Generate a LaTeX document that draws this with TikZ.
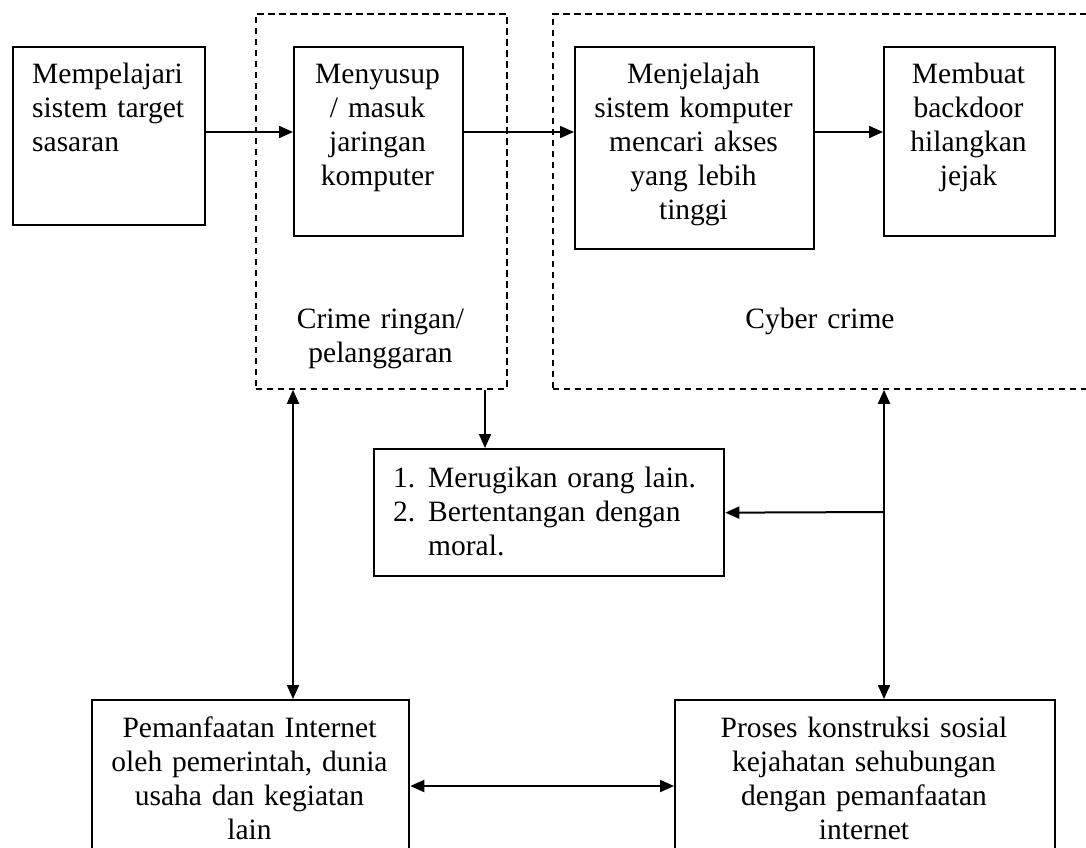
\documentclass[tikz,border=0pt]{standalone}
\usepackage{fontspec}
\setmainfont{Liberation Serif}
\usetikzlibrary{arrows.meta}
\begin{document}
\begin{tikzpicture}[x=1pt,y=-1pt,
  box/.style={draw=black,line width=2.3pt,rectangle,inner sep=0pt,anchor=north west},
  grp/.style={draw=black,line width=1.8pt,dash pattern=on 6.5pt off 4.5pt,rectangle,inner sep=0pt,anchor=north west},
  txt/.style={inner sep=0pt,font=\fontsize{29.5}{34}\selectfont},
  arr/.style={line width=2pt,-{Triangle[length=14pt,width=12pt]}},
  dbl/.style={line width=2pt,{Triangle[length=14pt,width=12pt]}-{Triangle[length=14pt,width=12pt]}}]
\useasboundingbox (0,0) rectangle (1086,847);
\clip (0,0) rectangle (1086,847);
\fill[white] (0,0) rectangle (1086,847);
% groups
\node[grp,minimum width=251pt,minimum height=375pt] (crime1) at (255,13) {};
\node[grp,minimum width=536pt,minimum height=375pt] (cyber) at (552,13) {};
% boxes
\node[box,minimum width=192pt,minimum height=178pt] (b1) at (12,46) {};
\node[box,minimum width=169pt,minimum height=189pt] (b2) at (293,46) {};
\node[box,minimum width=239pt,minimum height=202pt] (b3) at (574,46) {};
\node[box,minimum width=171pt,minimum height=189pt] (b4) at (883,46) {};
\node[box,minimum width=350pt,minimum height=127pt] (b5) at (373,448) {};
\node[box,minimum width=317pt,minimum height=220pt] (b6) at (91,699) {};
\node[box,minimum width=380pt,minimum height=220pt] (b7) at (674,699) {};
% texts
\node[txt,text width=180pt,align=left,anchor=base west] (t1) at (32,83) {Mempelajari\\sistem target\\sasaran};
\node[txt,text width=160pt,align=center,anchor=base] (t2) at (377.5,83) {Menyusup\\/ masuk\\jaringan\\komputer};
\node[txt,text width=235pt,align=center,anchor=base] (t3) at (693.5,83) {Menjelajah\\sistem komputer\\mencari akses\\yang lebih\\tinggi};
\node[txt,text width=168pt,align=center,anchor=base] (t4) at (968.5,83) {Membuat\\backdoor\\hilangkan\\jejak};
\node[txt,text width=240pt,align=center,anchor=base] (tc1) at (380.5,328) {Crime ringan/\\pelanggaran};
\node[txt,text width=240pt,align=center,anchor=base] (tc2) at (820,328) {Cyber crime};
\node[txt,text width=340pt,align=left,anchor=base west] (t5) at (393,487) {\makebox[35pt][l]{1.}Merugikan orang lain.\\\makebox[35pt][l]{2.}Bertentangan dengan\\\hspace*{35pt}moral.};
\node[txt,text width=315pt,align=center,anchor=base] (t6) at (249.5,737) {Pemanfaatan Internet\\oleh pemerintah, dunia\\usaha dan kegiatan\\lain};
\node[txt,text width=378pt,align=center,anchor=base] (t7) at (864,737) {Proses konstruksi sosial\\kejahatan sehubungan\\dengan pemanfaatan\\internet};
% connectors
\draw[arr] (b1.east |- 0,132) -- (b2.west |- 0,132);
\draw[arr] (b2.east |- 0,132) -- (b3.west |- 0,132);
\draw[arr] (b3.east |- 0,132) -- (b4.west |- 0,132);
\draw[arr] (crime1.south -| 485,0) -- (b5.north -| 485,0);
\draw[dbl] (crime1.south -| 293,0) -- (b6.north -| 293,0);
\draw[dbl] (cyber.south -| 884,0) -- (b7.north -| 884,0);
\coordinate (j) at (884,512);
\draw[arr] (j) -- (b5.east);
\draw[dbl] (b6.east |- 0,786) -- (b7.west |- 0,786);
\end{tikzpicture}
\end{document}
